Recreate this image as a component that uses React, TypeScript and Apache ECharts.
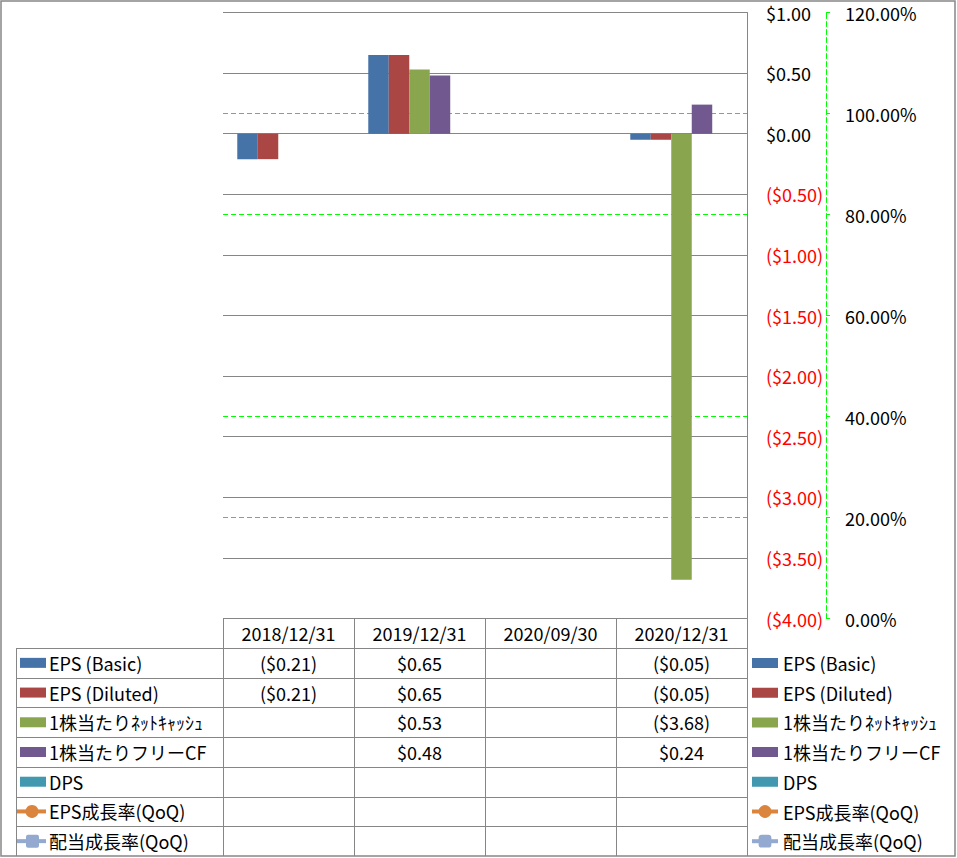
import React, { useEffect, useRef } from "react";
import * as echarts from "echarts";

const categories = ["2018/12/31", "2019/12/31", "2020/09/30", "2020/12/31"];
const seriesNames = [
  "EPS (Basic)",
  "EPS (Diluted)",
  "1株当たりﾈｯﾄｷｬｯｼｭ",
  "1株当たりフリーCF",
  "DPS",
  "EPS成長率(QoQ)",
  "配当成長率(QoQ)",
];
const epsBasic = [-0.21, 0.65, null, -0.05];
const epsDiluted = [-0.21, 0.65, null, -0.05];
const netCashPerShare = [null, 0.53, null, -3.68];
const fcfPerShare = [null, 0.48, null, 0.24];
const dps = [null, null, null, null];
const epsGrowth = [null, null, null, null];
const divGrowth = [null, null, null, null];

const colors = ["#4572A7", "#AA4643", "#89A54E", "#71588F", "#4198AF", "#DB843D", "#93A9CF"];
const FONT = "'Noto Sans CJK JP', 'Noto Sans', sans-serif";
const FS = 18;
const GRID_COLOR = "#868686";
const GREEN = "#00FF00";

const fmtMoney = (v: number) =>
  v < 0 ? `($${Math.abs(v).toFixed(2)})` : `$${v.toFixed(2)}`;

export default function App() {
  const ref = useRef<HTMLDivElement>(null);
  useEffect(() => {
    document.body.style.margin = "0";
    const chart = echarts.init(ref.current!, null, { renderer: "svg" });
    const gridLeft = 223;
    const gridTop = 12.5;
    const gridRight = 747;
    const gridBottom = 618.5;
    const barData = [epsBasic, epsDiluted, netCashPerShare, fcfPerShare, dps];
    const lineData = [epsGrowth, divGrowth];

    const series: any[] = [];
    barData.forEach((d, i) => {
      series.push({
        name: seriesNames[i],
        type: "bar",
        data: d,
        yAxisIndex: 0,
        barGap: "0%",
        barCategoryGap: "21.8%",
        itemStyle: { color: colors[i] },
      });
    });
    lineData.forEach((d, j) => {
      const i = 5 + j;
      series.push({
        name: seriesNames[i],
        type: "line",
        data: d,
        yAxisIndex: 1,
        symbol: j === 0 ? "circle" : "roundRect",
        symbolSize: 12,
        lineStyle: { color: colors[i], width: 4 },
        itemStyle: { color: colors[i] },
      });
    });

    const barIcon = "path://M0,0h0.01M0,3h26v10h-26zM0,16h0.01";

    const option: any = {
      animation: false,
      textStyle: { fontFamily: FONT },
      grid: {
        left: gridLeft,
        top: gridTop,
        width: gridRight - gridLeft,
        height: gridBottom - gridTop,
        containLabel: false,
      },
      xAxis: {
        type: "category",
        data: categories,
        axisLine: { show: false },
        axisTick: { show: false },
        axisLabel: {
          fontFamily: FONT,
          fontSize: FS,
          color: "#000",
          margin: 14.5,
          verticalAlign: "middle",
          interval: 0,
        },
      },
      yAxis: [
        {
          type: "value",
          position: "right",
          min: -4,
          max: 1,
          interval: 0.5,
          z: 1,
          axisLine: { show: true, lineStyle: { color: GRID_COLOR, width: 1 } },
          axisTick: { show: false },
          splitLine: { show: true, lineStyle: { color: GRID_COLOR, width: 1 } },
          axisLabel: {
            margin: 19,
            fontFamily: FONT,
            fontSize: FS,
            formatter: (v: number) => fmtMoney(Number(v)),
            color: (v: any) => (Number(v) < 0 ? "#FF0000" : "#000000"),
          },
        },
        {
          type: "value",
          position: "right",
          offset: 79,
          min: 0,
          max: 1.2,
          interval: 0.2,
          z: 0,
          axisLine: { show: true, lineStyle: { color: GREEN, width: 1, type: [5, 3] } },
          axisTick: { show: true, length: 4, lineStyle: { color: GREEN } },
          splitLine: { show: true, lineStyle: { color: GREEN, width: 1, type: [5, 3] } },
          axisLabel: {
            margin: 19,
            fontFamily: FONT,
            fontSize: FS,
            color: "#000",
            formatter: (v: number) => `${(Number(v) * 100).toFixed(2)}%`,
          },
        },
      ],
      legend: {
        orient: "vertical",
        left: 750,
        top: 653,
        padding: 0,
        itemWidth: 26,
        itemHeight: 16,
        itemGap: 9.7,
        textStyle: { fontFamily: FONT, fontSize: FS, color: "#000", lineHeight: 20 },
        data: seriesNames.map((n, i) =>
          i < 5 ? { name: n, icon: barIcon } : { name: n, lineStyle: { width: 4 } }
        ),
      },
      series,
    };
    chart.setOption(option);

    // Data table
    const g: any[] = [];
    const rowTop = 648;
    const rowH = (856 - rowTop) / 7;
    const lineStyle = { stroke: GRID_COLOR, lineWidth: 1 };
    const colW = (gridRight - gridLeft) / categories.length;
    g.push({
      type: "rect",
      shape: { x: 1, y: 1, width: 954, height: 855 },
      style: { fill: "none", stroke: GRID_COLOR, lineWidth: 1.5 },
      silent: true,
    });
    for (let c = 0; c <= categories.length; c++) {
      const x = Math.round(gridLeft + c * colW) + 0.5;
      g.push({ type: "line", shape: { x1: x, y1: gridBottom, x2: x, y2: 856 }, style: lineStyle, silent: true });
    }
    g.push({ type: "line", shape: { x1: 16.5, y1: rowTop, x2: 16.5, y2: 856 }, style: lineStyle, silent: true });
    for (let r = 0; r < 7; r++) {
      const y = Math.round(rowTop + r * rowH) + 0.5;
      g.push({ type: "line", shape: { x1: 16, y1: y, x2: gridRight + 1, y2: y }, style: lineStyle, silent: true });
    }
    const allData = [...barData, ...lineData];
    seriesNames.forEach((name, i) => {
      const cy = rowTop + (i + 0.5) * rowH;
      if (i < 5) {
        g.push({ type: "rect", shape: { x: 20, y: cy - 5, width: 26, height: 10 }, style: { fill: colors[i] }, silent: true });
      } else {
        g.push({ type: "line", shape: { x1: 17, y1: cy, x2: 46, y2: cy }, style: { stroke: colors[i], lineWidth: 4 }, silent: true });
        if (i === 5) {
          g.push({ type: "circle", shape: { cx: 32, cy, r: 6.5 }, style: { fill: colors[i] }, silent: true });
        } else {
          g.push({ type: "rect", shape: { x: 26, y: cy - 6.5, width: 13, height: 13, r: 2 }, style: { fill: colors[i] }, silent: true });
        }
      }
      g.push({
        type: "text",
        x: 49,
        y: cy,
        style: { text: name, font: `${FS}px ${FONT}`, fill: "#000", verticalAlign: "middle", align: "left" },
        silent: true,
      });
      const d = allData[i];
      d.forEach((v, ci) => {
        if (v === null || v === undefined) return;
        const cx = chart.convertToPixel({ xAxisIndex: 0 }, ci) as number;
        g.push({
          type: "text",
          x: cx,
          y: cy,
          style: { text: fmtMoney(v as number), font: `${FS}px ${FONT}`, fill: "#000", verticalAlign: "middle", align: "center" },
          silent: true,
        });
      });
    });
    chart.setOption({ graphic: g });
    return () => chart.dispose();
  }, []);
  return <div ref={ref} style={{ width: 957, height: 858 }} />;
}
